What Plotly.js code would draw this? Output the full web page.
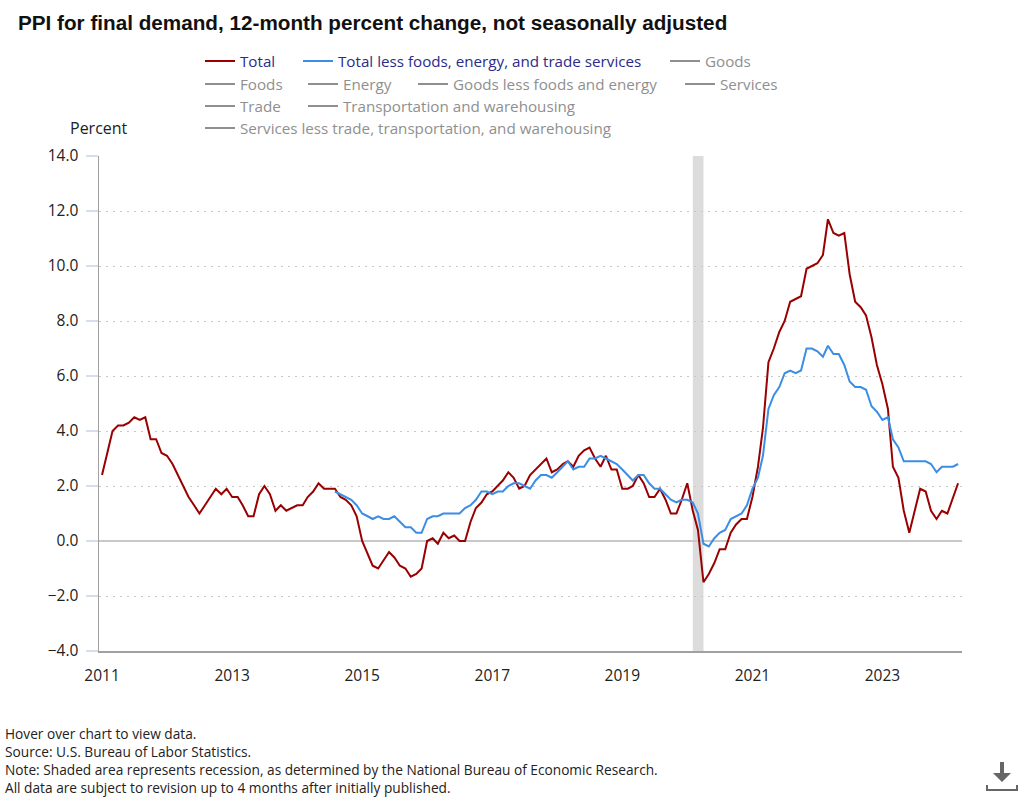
<!DOCTYPE html>
<html>
<head>
<meta charset="utf-8">
<script src="https://cdn.plot.ly/plotly-3.0.1.min.js"></script>
<style>
  html, body { margin: 0; padding: 0; background: #fff; }
  #chart { width: 1024px; height: 807px; }
</style>
</head>
<body>
<div id="chart"></div>
<script>
// ---- Data ----
const startYear = 2011;            // first month: Jan 2011
const total = [
  2.4,3.3,4.0,4.2,4.2,4.3,4.5,4.4,4.5,3.7,3.7,3.2,
  3.1,2.8,2.4,2.0,1.6,1.3,1.0,1.3,1.6,1.9,1.7,1.9,
  1.6,1.6,1.3,0.9,0.9,1.7,2.0,1.7,1.1,1.3,1.1,1.2,
  1.3,1.3,1.6,1.8,2.1,1.9,1.9,1.9,1.6,1.5,1.3,0.9,
  0.0,-0.5,-0.9,-1.0,-0.7,-0.4,-0.6,-0.9,-1.0,-1.3,-1.2,-1.0,
  0.0,0.1,-0.1,0.3,0.1,0.2,0.0,0.0,0.7,1.2,1.4,1.7,
  1.8,2.0,2.2,2.5,2.3,1.9,2.0,2.4,2.6,2.8,3.0,2.5,
  2.6,2.8,2.9,2.7,3.1,3.3,3.4,3.0,2.7,3.1,2.6,2.6,
  1.9,1.9,2.0,2.4,2.1,1.6,1.6,1.9,1.5,1.0,1.0,1.5,
  2.1,1.1,0.4,-1.5,-1.2,-0.8,-0.3,-0.3,0.3,0.6,0.8,0.8,
  1.6,2.7,4.1,6.5,7.0,7.6,8.0,8.7,8.8,8.9,9.9,10.0,
  10.1,10.4,11.7,11.2,11.1,11.2,9.7,8.7,8.5,8.2,7.4,6.4,
  5.7,4.8,2.7,2.3,1.1,0.3,1.1,1.9,1.8,1.1,0.8,1.1,
  1.0,1.6,2.1
];
const lessFETStartIndex = 43;      // Aug 2014
const lessFET = [
  1.8,1.7,1.6,1.5,1.3,
  1.0,0.9,0.8,0.9,0.8,0.8,0.9,0.7,0.5,0.5,0.3,0.3,
  0.8,0.9,0.9,1.0,1.0,1.0,1.0,1.2,1.3,1.5,1.8,1.8,
  1.7,1.8,1.8,2.0,2.1,2.1,2.0,1.9,2.2,2.4,2.4,2.3,
  2.5,2.7,2.9,2.6,2.7,2.7,3.0,3.0,3.1,3.0,2.9,2.8,
  2.6,2.4,2.2,2.4,2.4,2.1,1.9,1.9,1.7,1.5,1.4,1.5,
  1.5,1.4,1.0,-0.1,-0.2,0.1,0.3,0.4,0.8,0.9,1.0,1.3,
  1.9,2.3,3.1,4.8,5.3,5.6,6.1,6.2,6.1,6.2,7.0,7.0,
  6.9,6.7,7.1,6.8,6.8,6.4,5.8,5.6,5.6,5.5,4.9,4.7,
  4.4,4.5,3.7,3.4,2.9,2.9,2.9,2.9,2.9,2.8,2.5,2.7,
  2.7,2.7,2.8
];
const recession = ['2020-02-01', '2020-04-01'];
const activeNames = ['Total', 'Total less foods, energy, and trade services'];
const hiddenNames = ['Goods', 'Foods', 'Energy', 'Goods less foods and energy', 'Services',
  'Trade', 'Transportation and warehousing',
  'Services less trade, transportation, and warehousing'];
const titleText = 'PPI for final demand, 12-month percent change, not seasonally adjusted';
const yTitle = 'Percent';
const footerLines = [
  'Hover over chart to view data.',
  'Source: U.S. Bureau of Labor Statistics.',
  'Note: Shaded area represents recession, as determined by the National Bureau of Economic Research.',
  'All data are subject to revision up to 4 months after initially published.'
];

// ---- Helpers ----
function monthDate(i) {
  const y = startYear + Math.floor(i / 12);
  const m = (i % 12) + 1;
  return y + '-' + String(m).padStart(2, '0') + '-01';
}
const xTotal = total.map((_, i) => monthDate(i));
const xLess = lessFET.map((_, i) => monthDate(i + lessFETStartIndex));

// plot area in pixels
const W = 1024, H = 807;
const M = { l: 99, r: 62, t: 156, b: 156 };
const PW = W - M.l - M.r, PH = H - M.t - M.b;
const px2x = px => (px - M.l) / PW;
const py2y = py => (H - M.b - py) / PH;

const FONT = '"Open Sans", "Noto Sans", sans-serif';
const NAVY = '#2b2b8a';
const GREY = '#8f8f8f';

// legend placement (text start x, row centre y) for each item
const legendSpots = [
  [240, 61], [338, 61], [705, 61],
  [240, 84], [343, 84], [453, 84], [720, 84],
  [240, 106], [343, 106],
  [240, 128]
];

const traces = [];
traces.push({
  type: 'scatter', mode: 'lines', x: xTotal, y: total,
  name: '<span style="color:' + NAVY + '">' + activeNames[0] + '</span>',
  line: { color: '#990000', width: 2 }, legend: 'legend', showlegend: true
});
traces.push({
  type: 'scatter', mode: 'lines', x: xLess, y: lessFET,
  name: '<span style="color:' + NAVY + '">' + activeNames[1] + '</span>',
  line: { color: '#3a8ee6', width: 2 }, legend: 'legend2', showlegend: true
});
hiddenNames.forEach((n, k) => {
  traces.push({
    type: 'scatter', mode: 'lines', x: [null], y: [null],
    name: '<span style="color:' + GREY + '">' + n + '</span>',
    line: { color: GREY, width: 2 }, legend: 'legend' + (k + 3), showlegend: true
  });
});

const layout = {
  width: W, height: H,
  showlegend: true,
  margin: { l: M.l, r: M.r, t: M.t, b: M.b, autoexpand: false },
  paper_bgcolor: '#fff', plot_bgcolor: '#fff',
  font: { family: FONT, size: 14, color: '#333' },
  hovermode: false,
  title: {
    text: titleText, xref: 'container', yref: 'container',
    x: 18 / W, xanchor: 'left', y: 1 - 23 / H, yanchor: 'middle',
    font: { family: '"Liberation Sans", Arial, sans-serif', size: 20.7, weight: 700, color: '#111' }
  },
  xaxis: {
    type: 'date', range: ['2010-12-15', '2024-03-23'],
    tick0: '2011-01-01', dtick: 'M24', tickformat: '%Y',
    showgrid: false, zeroline: false,
    showline: true, linecolor: '#a0a0a0', linewidth: 1.5,
    ticks: '', ticklabelstandoff: 10,
    tickfont: { family: FONT, size: 15.5, color: '#222' }
  },
  yaxis: {
    range: [-4, 14], dtick: 2, tick0: 0, tickformat: '.1f',
    showgrid: true, gridcolor: '#c8c8c8', gridwidth: 1, griddash: '2px,5px',
    zeroline: true, zerolinecolor: '#c8c8c8', zerolinewidth: 1.5,
    showline: true, linecolor: '#a0a0a0', linewidth: 1.5,
    ticks: 'outside', ticklen: 12, tickwidth: 2, tickcolor: '#d6deee',
    ticklabelstandoff: 4,
    tickfont: { family: FONT, size: 15.5, color: '#222' }
  },
  shapes: [
    { type: 'rect', xref: 'x', yref: 'paper', x0: recession[0], x1: recession[1], y0: 0, y1: 1,
      fillcolor: '#dcdcdc', line: { width: 0 }, layer: 'below' },
    // download icon
    { type: 'path', xref: 'paper', yref: 'paper',
      path: 'M' + px2x(1000) + ',' + py2y(762) + ' L' + px2x(1004) + ',' + py2y(762) +
            ' L' + px2x(1004) + ',' + py2y(773) + ' L' + px2x(1011) + ',' + py2y(773) +
            ' L' + px2x(1002) + ',' + py2y(782) + ' L' + px2x(993) + ',' + py2y(773) +
            ' L' + px2x(1000) + ',' + py2y(773) + ' Z',
      fillcolor: '#666', line: { width: 0 } },
    { type: 'path', xref: 'paper', yref: 'paper',
      path: 'M' + px2x(987) + ',' + py2y(785) + ' L' + px2x(987) + ',' + py2y(790) +
            ' L' + px2x(1017) + ',' + py2y(790) + ' L' + px2x(1017) + ',' + py2y(785),
      line: { color: '#666', width: 2 } }
  ],
  annotations: [
    { text: yTitle, xref: 'paper', yref: 'paper', x: px2x(99), y: py2y(128),
      xanchor: 'center', yanchor: 'middle', showarrow: false,
      font: { family: FONT, size: 16, color: '#222' } }
  ].concat(footerLines.map((t, k) => ({
    text: t, xref: 'paper', yref: 'paper', x: px2x(3), y: py2y(733 + 18 * k),
    xanchor: 'left', yanchor: 'middle', showarrow: false,
    font: { family: FONT, size: 13.7, color: '#222' }
  })))
};

// one legend per entry to reproduce the wrapped legend layout
legendSpots.forEach((s, k) => {
  const key = k === 0 ? 'legend' : 'legend' + (k + 1);
  layout[key] = {
    visible: true,
    orientation: 'h', x: px2x(s[0] - 40), y: py2y(s[1]), xanchor: 'left', yanchor: 'middle',
    bgcolor: 'rgba(0,0,0,0)', borderwidth: 0,
    font: { family: FONT, size: 15.2, color: NAVY }
  };
});

Plotly.newPlot('chart', traces, layout, { displayModeBar: false, staticPlot: true });
</script>
</body>
</html>
